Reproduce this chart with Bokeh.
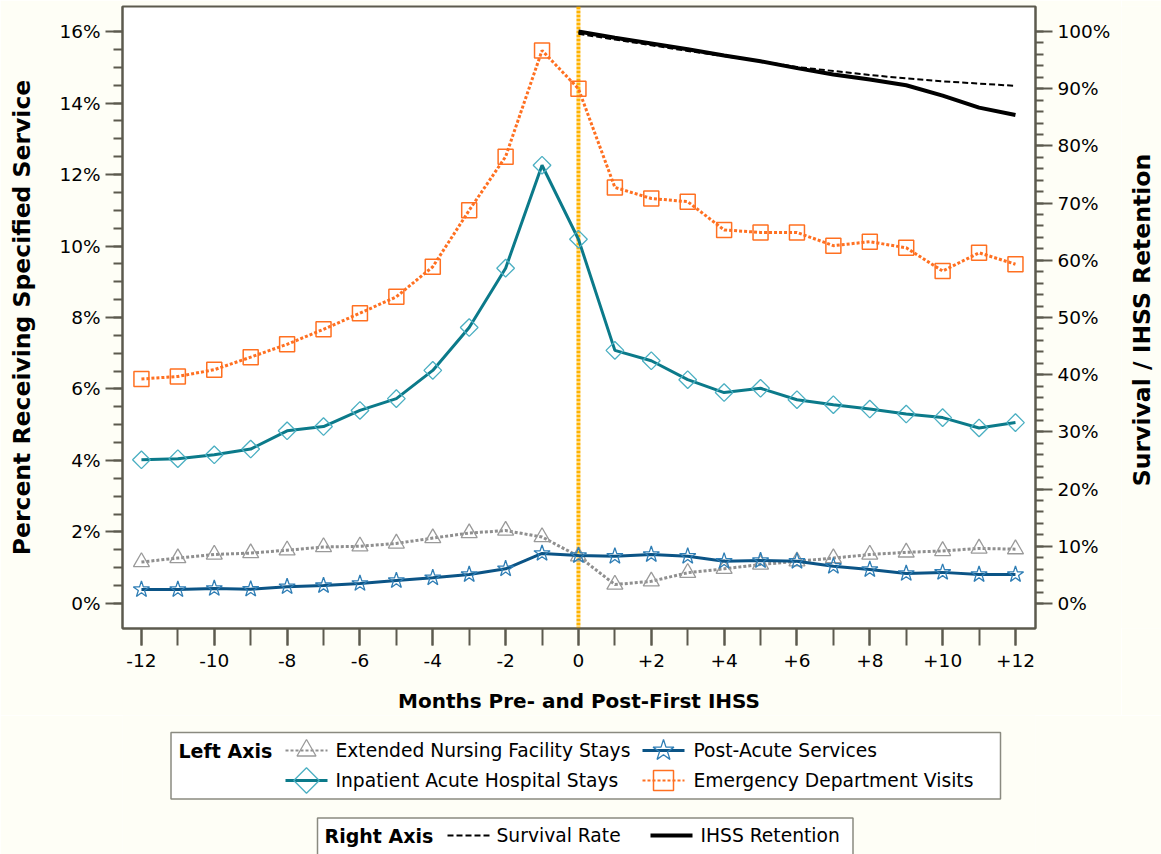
import math
from bokeh.plotting import figure
from bokeh.models import Range1d, LinearAxis, FixedTicker, PrintfTickFormatter, Span
from bokeh.layouts import column, row
from bokeh.embed import file_html
from bokeh.resources import INLINE
from bokeh.core.properties import value

# ---------------- data ----------------
months = list(range(-12, 13))
x_ticks = [-12, -10, -8, -6, -4, -2, 0, 2, 4, 6, 8, 10, 12]
x_tick_labels = ["-12", "-10", "-8", "-6", "-4", "-2", "0", "+2", "+4", "+6", "+8", "+10", "+12"]

enf = [1.16, 1.27, 1.37, 1.41, 1.49, 1.58, 1.60, 1.68, 1.83, 1.97, 2.04, 1.86, 1.32,
       0.53, 0.62, 0.86, 0.97, 1.09, 1.18, 1.27, 1.37, 1.43, 1.47, 1.54, 1.52]
post_acute = [0.39, 0.39, 0.42, 0.40, 0.47, 0.50, 0.56, 0.64, 0.72, 0.81, 0.97, 1.40, 1.34,
              1.32, 1.37, 1.32, 1.18, 1.20, 1.18, 1.04, 0.95, 0.84, 0.87, 0.81, 0.81]
inpatient = [4.02, 4.05, 4.16, 4.32, 4.83, 4.95, 5.40, 5.73, 6.52, 7.72, 9.38, 12.26, 10.19,
             7.08, 6.79, 6.26, 5.90, 6.02, 5.70, 5.56, 5.44, 5.30, 5.20, 4.91, 5.06]
ed_visits = [6.28, 6.35, 6.54, 6.89, 7.25, 7.67, 8.12, 8.58, 9.42, 11.00, 12.50, 15.47, 14.40,
             11.64, 11.33, 11.24, 10.45, 10.38, 10.38, 10.01, 10.12, 9.95, 9.30, 9.81, 9.49]

post_months = list(range(0, 13))
survival = [99.6, 98.6, 97.6, 96.6, 95.7, 94.8, 93.8, 93.1, 92.4, 91.8, 91.3, 90.9, 90.5]
retention = [100.0, 98.9, 97.9, 96.9, 95.8, 94.8, 93.6, 92.5, 91.6, 90.6, 88.8, 86.7, 85.4]

left_names = ["Extended Nursing Facility Stays", "Post-Acute Services",
              "Inpatient Acute Hospital Stays", "Emergency Department Visits"]
right_names = ["Survival Rate", "IHSS Retention"]
right_title = "Survival / IHSS Retention"

# ---------------- style ----------------
BG = "#FEFEF6"
AX = "#5C5A4E"
FONT = "DejaVu Sans"
C_ED = "#FF7021"
C_IN_LINE = "#0B7A8A"
C_IN_MK = "#4AAFC2"
C_PA_LINE = "#0B5486"
C_PA_MK = "#2F7EB5"
C_ENF_LINE = "#8F8F8F"
C_ENF_MK = "#9A9A9A"
C_ZERO = "#FFB300"

X0, X1 = -12.52, 12.55
p = figure(width=1121, height=715, output_backend="svg", toolbar_location=None,
           x_range=Range1d(X0, X1), y_range=Range1d(-0.7, 16.7),
           min_border_left=122, min_border_right=86, min_border_top=6, min_border_bottom=86,
           background_fill_color="white", border_fill_color=BG)
p.outline_line_color = AX
p.outline_line_width = 2
p.grid.visible = False
p.extra_y_ranges = {"right": Range1d(-0.7 * 6.25, 16.7 * 6.25)}


def style_axis(ax, minor_len):
    ax.axis_line_color = AX
    ax.axis_line_width = 2
    ax.major_tick_line_color = AX
    ax.major_tick_line_width = 2
    ax.minor_tick_line_color = AX
    ax.minor_tick_line_width = 2
    ax.major_tick_out = 17
    ax.major_tick_in = 0
    ax.minor_tick_out = minor_len
    ax.minor_tick_in = 0
    ax.major_label_text_font = FONT
    ax.major_label_text_font_size = "18.5px"
    ax.major_label_text_color = "black"
    ax.major_label_standoff = 5
    ax.axis_label_text_font = FONT
    ax.axis_label_text_font_style = "bold"
    ax.axis_label_text_color = "black"


xa = p.xaxis[0]
style_axis(xa, 17)
xa.ticker = FixedTicker(ticks=x_ticks, minor_ticks=months)
xa.major_label_overrides = {t: s for t, s in zip(x_ticks, x_tick_labels)}
xa.major_label_standoff = 8
xa.axis_label = "Months Pre- and Post-First IHSS"
xa.axis_label_text_font_size = "20px"
xa.axis_label_standoff = 19

ya = p.yaxis[0]
style_axis(ya, 9)
ya.ticker = FixedTicker(ticks=list(range(0, 17, 2)), minor_ticks=[i * 0.5 for i in range(0, 33)])
ya.formatter = PrintfTickFormatter(format="%d%%")
ya.axis_label = "Percent Receiving Specified Service"
ya.axis_label_text_font_size = "23.5px"
ya.axis_label_standoff = 20

ra = LinearAxis(y_range_name="right")
style_axis(ra, 8)
ra.ticker = FixedTicker(ticks=list(range(0, 101, 10)), minor_ticks=list(range(0, 101, 2)))
ra.formatter = PrintfTickFormatter(format="%d%%")
p.add_layout(ra, "right")

p.add_layout(Span(location=0, dimension="height", line_color=C_ZERO, line_width=4,
                  line_dash="3 1", level="underlay"))

# left-axis series
p.line(months, enf, line_color=C_ENF_LINE, line_width=3, line_dash="3 2")
p.scatter(months, enf, marker="triangle", size=16, fill_color=None, line_color=C_ENF_MK, line_width=1.3)

p.line(months, post_acute, line_color=C_PA_LINE, line_width=3)
p.scatter(months, post_acute, marker="star", size=17, fill_color=None, line_color=C_PA_MK, line_width=1.3)

p.line(months, inpatient, line_color=C_IN_LINE, line_width=3)
p.scatter(months, inpatient, marker="square", angle=math.pi / 4, size=12.5, fill_color=None,
          line_color=C_IN_MK, line_width=1.3)

p.line(months, ed_visits, line_color=C_ED, line_width=3, line_dash="3 2")
p.scatter(months, ed_visits, marker="square", size=15, fill_color=None, line_color=C_ED, line_width=1.5)

# right-axis series
p.line(post_months, survival, y_range_name="right", line_color="black", line_width=2, line_dash="6 3")
p.line(post_months, retention, y_range_name="right", line_color="black", line_width=4)

# ---------------- right-axis title strip (reads bottom-to-top) ----------------
# its frame is aligned with the plot frame (page y 6..629), so y is in page pixels
rf = figure(width=40, height=715, output_backend="svg", toolbar_location=None,
            x_range=Range1d(0, 40), y_range=Range1d(629, 6),
            min_border=0, x_axis_location=None, y_axis_location=None,
            background_fill_color=BG, border_fill_color=BG)
rf.outline_line_color = None
rf.grid.visible = False
rf.text(x=[20], y=[320], text=[right_title], angle=math.pi / 2,
        text_font=value(FONT), text_font_style="bold", text_font_size="23.5px",
        text_align="center", text_baseline="middle", text_color="black")

# ---------------- legends (separate strip, x in page pixels) ----------------
lg = figure(width=1161, height=139, output_backend="svg", toolbar_location=None,
            x_range=Range1d(122, 1035), y_range=Range1d(854, 715),
            min_border=0, min_border_left=122, min_border_right=126,
            x_axis_location=None, y_axis_location=None,
            background_fill_color=BG, border_fill_color=BG)
lg.outline_line_color = None
lg.grid.visible = False

BOX = "#8A8A80"
lg.quad(left=[170.5, 317], right=[1000, 852.5], top=[732, 817.5], bottom=[798.5, 870],
        fill_color="white", line_color=BOX, line_width=1.5)

title_kw = dict(text_font=value(FONT), text_font_style="bold", text_font_size="19px",
                text_baseline="middle", text_align="left", text_color="black")
item_kw = dict(text_font=value(FONT), text_font_size="18.7px",
               text_baseline="middle", text_align="left", text_color="black")

lg.text(x=[178, 324], y=[750, 835], text=["Left Axis", "Right Axis"], **title_kw)
lg.text(x=[335, 693, 335, 693], y=[750, 750, 780, 780], text=left_names, **item_kw)
lg.text(x=[496, 700], y=[835, 835], text=right_names, **item_kw)

# samples
lg.line([285, 327], [750, 750], line_color=C_ENF_LINE, line_width=2, line_dash="3 2")
lg.scatter([306], [750], marker="triangle", size=19, fill_color=None, line_color=C_ENF_MK, line_width=1.3)

lg.line([642, 684], [750, 750], line_color=C_PA_LINE, line_width=3)
lg.scatter([663], [750], marker="star", size=22, fill_color=None, line_color=C_PA_MK, line_width=1.3)

lg.line([285, 327], [780, 780], line_color=C_IN_LINE, line_width=3)
lg.scatter([306], [780], marker="square", angle=math.pi / 4, size=18, fill_color=None,
           line_color=C_IN_MK, line_width=1.3)

lg.line([642, 684], [780, 780], line_color=C_ED, line_width=2, line_dash="3 2")
lg.scatter([663], [780], marker="square", size=20, fill_color=None, line_color=C_ED, line_width=1.5)

lg.line([447, 490], [835, 835], line_color="black", line_width=2, line_dash="6 3")
lg.line([650, 692], [835, 835], line_color="black", line_width=4)

layout = column(row(p, rf, spacing=0), lg, spacing=0)
open("out.html", "w").write(file_html(layout, INLINE))
